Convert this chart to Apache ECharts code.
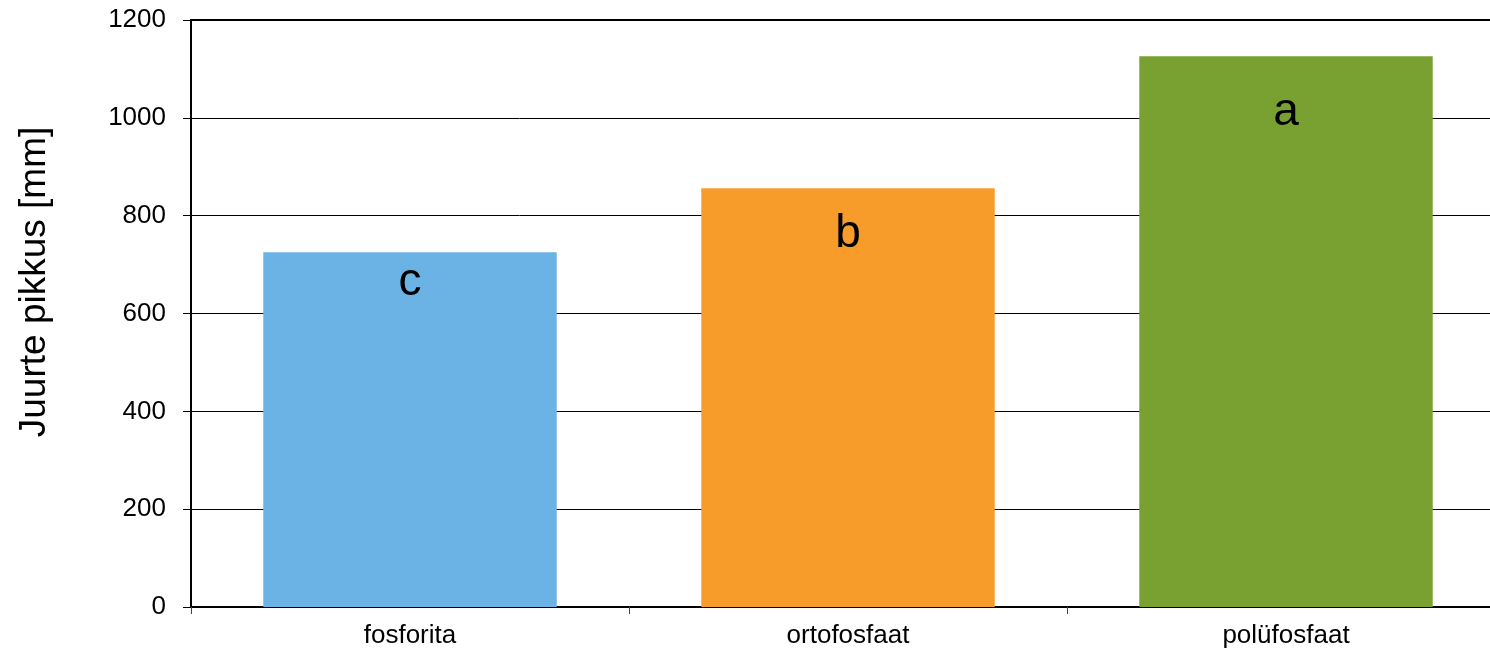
<!DOCTYPE html>
<html>
<head>
<meta charset="utf-8">
<script src="https://cdn.jsdelivr.net/npm/echarts@6/dist/echarts.min.js"></script>
<style>
    html, body { margin: 0; padding: 0; background: #fff; overflow: hidden; }
    #chart { width: 1505px; height: 656px; }
</style>
</head>
<body>
<div id="chart"></div>
<script>
// andmed
var categories = ['fosforita', 'ortofosfaat', 'polüfosfaat'];
var values = [725, 856, 1126];
var letters = ['c', 'b', 'a'];
var yTicks = [0, 200, 400, 600, 800, 1000, 1200];

var barColors = ['#6BB2E5', '#F79B2B', '#78A132'];
var labelShift = [7, 23, 33];   // tähe nihe tulba ülaservast
var font = 'Liberation Sans, Arial, sans-serif';

var chart = echarts.init(document.getElementById('chart'));

var barData = [];
for (var i = 0; i < values.length; i++) {
    barData.push({
        value: values[i],
        itemStyle: { color: barColors[i] },
        label: { offset: [0, labelShift[i]] }
    });
}

var option = {
    animation: false,
    grid: {
        left: 191,
        right: 0,
        top: 20,
        bottom: 49,
        containLabel: false
    },
    xAxis: [{
        type: 'category',
        data: categories,
        axisLine: { lineStyle: { color: '#000', width: 2 } },
        axisTick: { show: true, length: 7, lineStyle: { color: '#444', width: 1 } },
        axisLabel: {
            color: '#000',
            fontFamily: font,
            fontSize: 26,
            margin: 16
        }
    }, {
        // ülemine raamijoon
        type: 'category',
        position: 'top',
        data: categories,
        axisLine: { lineStyle: { color: '#000', width: 2 } },
        axisTick: { show: false },
        axisLabel: { show: false }
    }],
    yAxis: {
        type: 'value',
        min: yTicks[0],
        max: yTicks[yTicks.length - 1],
        interval: yTicks[1] - yTicks[0],
        axisLine: { show: true, lineStyle: { color: '#000', width: 2 } },
        axisTick: { show: true, length: 8, lineStyle: { color: '#000' } },
        axisLabel: {
            color: '#000',
            fontFamily: font,
            fontSize: 26,
            margin: 25,
            formatter: function (v) { return String(v); }
        },
        splitLine: { show: true, lineStyle: { color: '#000', width: 1 } }
    },
    graphic: [{
        type: 'text',
        x: 35,
        y: 282,
        rotation: Math.PI / 2,
        style: {
            text: 'Juurte pikkus [mm]',
            fill: '#000',
            font: '37px ' + font,
            textAlign: 'center',
            textVerticalAlign: 'middle'
        }
    }],
    series: [{
        type: 'bar',
        data: barData,
        barWidth: '67%',
        label: {
            show: true,
            position: 'insideTop',
            distance: 0,
            formatter: function (p) { return letters[p.dataIndex]; },
            color: '#000',
            fontFamily: font,
            fontSize: 46
        }
    }]
};

chart.setOption(option);
</script>
</body>
</html>
